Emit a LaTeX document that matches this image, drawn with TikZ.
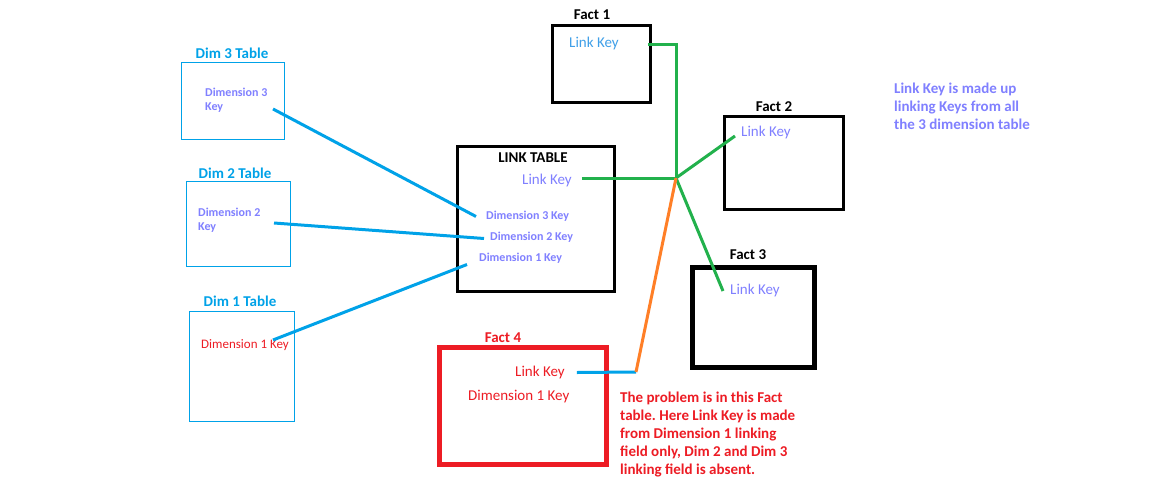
\documentclass[tikz,border=0pt]{standalone}
\usepackage{fontspec}
\setmainfont{Carlito}
\frenchspacing
\definecolor{pblue}{HTML}{00A2E8}
\definecolor{lav}{HTML}{8080FF}
\definecolor{pred}{HTML}{ED1C24}
\definecolor{pgreen}{HTML}{22B14C}
\definecolor{porange}{HTML}{FF7F27}
\definecolor{lkblue}{HTML}{3F9FE8}
\begin{document}
\begin{tikzpicture}[x=1pt,y=-1pt,
  tbl/.style={draw, rectangle, inner sep=0pt, outer sep=0pt, anchor=north west},
  dimbox/.style={tbl, draw=pblue, line width=1pt},
  title/.style={inner sep=0pt, font=\fontsize{15}{18}\selectfont\bfseries},
  keytxt/.style={inner sep=0pt, anchor=west, font=\fontsize{15}{18}\selectfont},
  smalltxt/.style={inner sep=0pt, font=\fontsize{12}{14}\selectfont\bfseries, text=lav},
  note/.style={inner sep=0pt, anchor=north west, align=left, font=\fontsize{15}{18}\selectfont\bfseries},
  bline/.style={draw=pblue, line width=3pt},
  gline/.style={draw=pgreen, line width=3pt},
  oline/.style={draw=porange, line width=3pt}]
\useasboundingbox[fill=white] (0,0) rectangle (1169,490);

% Dimension tables
\node[dimbox, minimum width=103pt, minimum height=77pt] (dim3) at (181.5,62.5) {};
\node[title, text=pblue] (dim3t) at (232,53) {Dim 3 Table};
\node[smalltxt, anchor=north west, align=left] (dim3k) at (205,88) {Dimension 3\\Key};

\node[dimbox, minimum width=104pt, minimum height=85pt] (dim2) at (186.5,181.5) {};
\node[title, text=pblue] (dim2t) at (235,173) {Dim 2 Table};
\node[smalltxt, anchor=north west, align=left] (dim2k) at (198,208) {Dimension 2\\Key};

\node[dimbox, minimum width=105pt, minimum height=110pt] (dim1) at (189.5,311.5) {};
\node[title, text=pblue] (dim1t) at (240,301) {Dim 1 Table};
\node[keytxt, text=pred, font=\fontsize{13}{15}\selectfont] (dim1k) at (201,345) {Dimension 1 Key};

% Link table
\node[tbl, line width=3pt, minimum width=157pt, minimum height=145pt] (lt) at (457.5,146.5) {};
\node[title] (ltt) at (533,158) {LINK TABLE};
\node[keytxt, text=lav] (ltk) at (522,180) {Link Key};
\node[smalltxt, anchor=west] (lt3) at (486,216.5) {Dimension 3 Key};
\node[smalltxt, anchor=west] (lt2) at (490,237.5) {Dimension 2 Key};
\node[smalltxt, anchor=west] (lt1) at (479,258.5) {Dimension 1 Key};

% Facts
\node[tbl, line width=3pt, minimum width=98pt, minimum height=77pt] (f1) at (552.5,25.5) {};
\node[title] (f1t) at (592,15) {Fact 1};
\node[keytxt, text=lkblue] (f1k) at (569,43) {Link Key};

\node[tbl, line width=3pt, minimum width=119pt, minimum height=93pt] (f2) at (724.5,116.5) {};
\node[title] (f2t) at (774,107) {Fact 2};
\node[keytxt, text=lav] (f2k) at (741,132) {Link Key};

\node[tbl, line width=5pt, minimum width=122pt, minimum height=100pt] (f3) at (692.5,267.5) {};
\node[title] (f3t) at (748,255) {Fact 3};
\node[keytxt, text=lav] (f3k) at (730,290) {Link Key};

\node[tbl, draw=pred, line width=5pt, minimum width=167pt, minimum height=117pt] (f4) at (439.5,347.5) {};
\node[title, text=pred] (f4t) at (503,337.5) {Fact 4};
\node[keytxt, text=pred] (f4k) at (515,372.5) {Link Key};
\node[keytxt, text=pred] (f4d) at (468,396.5) {Dimension 1 Key};

% Notes
\node[note, text=pred] (n4) at (620,392) {The problem is in this Fact\\table. Here Link Key is made\\from Dimension 1 linking\\field only, Dim 2 and Dim 3\\linking field is absent.};
\node[note, text=lav] (nlk) at (894,83) {Link Key is made up\\linking Keys from all\\the 3 dimension table};

% Connector points
\coordinate (d3e) at (273,109);
\coordinate (d2e) at (274,223);
\coordinate (d1e) at (273,340);
\coordinate (J) at (676,178);
\coordinate (K) at (636,372);
\coordinate (f1e) at (648,44);

% Blue connectors
\draw[bline] (d3e) -- ([xshift=-10pt]lt3.west);
\draw[bline] (d2e) -- ([xshift=-6pt,yshift=-1pt]lt2.west);
\draw[bline] (d1e) -- ([xshift=-12pt,yshift=-6pt]lt1.west);
\draw[bline] ([xshift=12pt]f4k.east) -- (K);

% Green connectors
\draw[gline] (f1e) -| (J);
\draw[gline] ([xshift=10pt,yshift=2pt]ltk.east) -- (J);
\draw[gline] (J) -- ([xshift=-6pt,yshift=-4pt]f2k.west);
\draw[gline] (J) -- ([xshift=-7pt,yshift=-1pt]f3k.west);

% Orange connector
\draw[oline] (J) -- (K);
\end{tikzpicture}
\end{document}
